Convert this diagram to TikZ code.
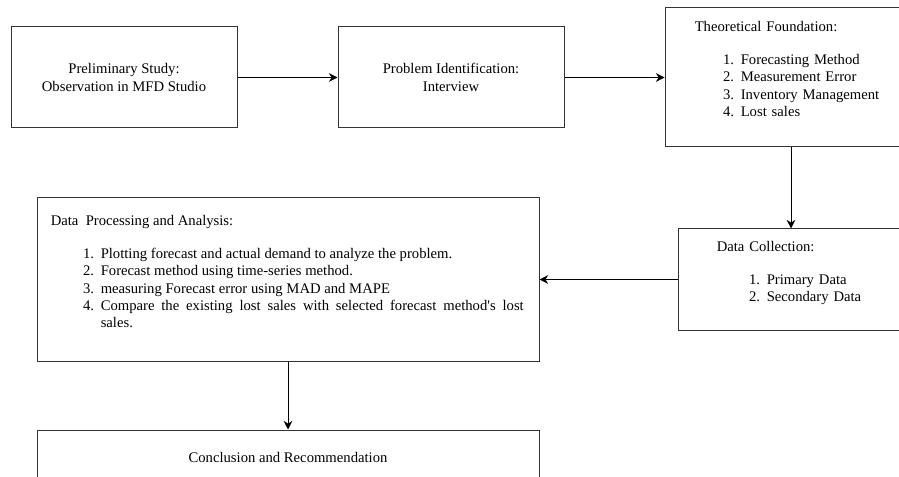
\documentclass[tikz,border=0pt]{standalone}
\usepackage{fontspec}
\setmainfont{Liberation Serif}
\usepackage{enumitem}
\usetikzlibrary{positioning,arrows.meta}

\setlist[enumerate]{leftmargin=37.5pt,labelsep=5pt,topsep=12pt,partopsep=0pt,itemsep=0pt,parsep=0pt}
\tikzset{
  stage/.style={rectangle,draw=black!80,line width=0.75pt,minimum width=169.5pt,minimum height=75.75pt,align=center,inner sep=0pt},
  stagetext/.style={anchor=base west,inner sep=0pt,align=left},
  flow/.style={-{Stealth[length=6.5pt,width=6.5pt]},line width=0.75pt}
}

\begin{document}
\begin{tikzpicture}[font=\fontsize{11pt}{12.9pt}\selectfont]
  \useasboundingbox (0,0) rectangle (674.25pt,-357.75pt);
  \clip (0,0) rectangle (674.25pt,-357.75pt);
  \node[stage] (prelim) at (93pt,-58.125pt) {Preliminary Study:\\Observation in MFD Studio};
  \node[stage,right=75pt of prelim] (problem) {Problem Identification:\\Interview};
  \node[stage,minimum width=189pt,minimum height=104.25pt,right=75pt of problem] (theory) {};
  \node[stage,below=60.75pt of theory] (collect) {};
  \node[stage,minimum width=376.5pt,minimum height=122.25pt,left=103.5pt of collect] (analysis) {};
  \node[stage,minimum width=376.5pt,minimum height=40.5pt,below=51pt of analysis] (conclusion) {Conclusion and Recommendation};
  \node[stagetext,text width=160pt] (theorytext) at ([shift={(22.5pt,-18pt)}]theory.north west) {Theoretical Foundation:
    \begin{enumerate}[leftmargin=34.5pt]
      \item Forecasting Method
      \item Measurement Error
      \item Inventory Management
      \item Lost sales
    \end{enumerate}};
  \node[stagetext,text width=135pt] (collecttext) at ([shift={(29.25pt,-17.25pt)}]collect.north west) {Data Collection:
    \begin{enumerate}
      \item Primary Data
      \item Secondary Data
    \end{enumerate}};
  \node[stagetext,text width=354.75pt,align=justify] (analysistext) at ([shift={(10.5pt,-21pt)}]analysis.north west) {Data\ \ Processing and Analysis:
    \begin{enumerate}
      \item Plotting forecast and actual demand to analyze the problem.
      \item Forecast method using time-series method.
      \item measuring Forecast error using MAD and MAPE
      \item Compare the existing lost sales with selected forecast method\textquotesingle s lost\linebreak sales.
    \end{enumerate}};
  \draw[flow] (prelim) -- (problem);
  \draw[flow] (problem) -- (theory);
  \draw[flow] (theory) -- (collect);
  \draw[flow] (collect) -- (analysis);
  \draw[flow] (analysis) -- (conclusion);
\end{tikzpicture}
\end{document}
